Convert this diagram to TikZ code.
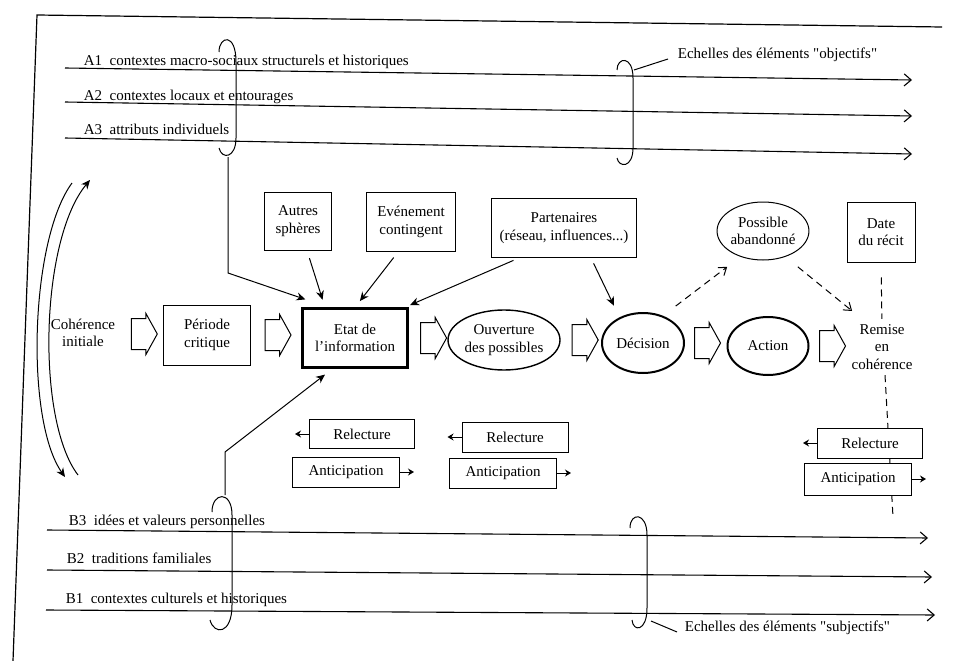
\documentclass[tikz,border=0pt]{standalone}
\usepackage{fontspec}
\setmainfont{Liberation Serif}
\usepackage{tikz}
\usetikzlibrary{positioning, shapes.geometric, shapes.arrows, arrows.meta}

\begin{document}
\begin{tikzpicture}[x=1pt, y=-1pt, font=\fontsize{15}{17.5}\selectfont, line width=1pt]
    % Default looks
    \tikzstyle{box}=[draw, rectangle, inner sep=0pt, align=center];
    \tikzstyle{oval}=[draw, ellipse, inner sep=0pt, align=center];
    \tikzstyle{fat}=[draw, single arrow, inner xsep=0pt, inner ysep=15pt, minimum height=26pt, minimum width=40pt, single arrow head extend=5pt, single arrow tip angle=122];
    \tikzstyle{echelle}=[-{Straight Barb[length=7pt,width=12pt]}, line width=1.1pt];
    \tikzstyle{arr}=[-{Stealth[length=9pt,width=8pt]}];
    \tikzstyle{darr}=[dash pattern=on 7pt off 5pt, -{Straight Barb[length=7pt,width=10pt]}];
    \fill[white] (0,0) rectangle (959,661);
    \useasboundingbox (0,0) rectangle (959,661);

    % Frame
    \draw[line width=1.2pt] (942,27) -- (37,15) -- (13,661);

    % Objective scales
    \coordinate (a1s) at (65,68);  \coordinate (a1e) at (912,80);
    \coordinate (a2s) at (65,102); \coordinate (a2e) at (912,116);
    \coordinate (a3s) at (65,138); \coordinate (a3e) at (912,154);
    \draw[echelle] (a1s) -- (a1e);
    \draw[echelle] (a2s) -- (a2e);
    \draw[echelle] (a3s) -- (a3e);
    \node (a1) [anchor=base west] at (80,66) {A1~~contextes macro-sociaux structurels et historiques};
    \node (a2) [anchor=base west] at (80,100) {A2~~contextes locaux et entourages};
    \node (a3) [anchor=base west] at (80,135) {A3~~attributs individuels};

    % Subjective scales
    \coordinate (b3s) at (47,530); \coordinate (b3e) at (928,538);
    \coordinate (b2s) at (47,570); \coordinate (b2e) at (932,577);
    \coordinate (b1s) at (46,610); \coordinate (b1e) at (935,615);
    \draw[echelle] (b3s) -- (b3e);
    \draw[echelle] (b2s) -- (b2e);
    \draw[echelle] (b1s) -- (b1e);
    \node (b3) [anchor=base west] at (65,525) {B3~~idées et valeurs personnelles};
    \node (b2) [anchor=base west] at (63,563) {B2~~traditions familiales};
    \node (b1) [anchor=base west] at (62,603) {B1~~contextes culturels et historiques};

    % Braces
    \draw (219,52) .. controls (219,36) and (236,32) .. (236,62) -- (236,138) .. controls (236,158) and (222,160) .. (219,148);
    \draw (617,70) .. controls (617,57) and (633,55) .. (633,78) -- (633,148) .. controls (633,168) and (619,168) .. (617,158);
    \draw (212,512) .. controls (212,492) and (232,490) .. (232,515) -- (232,605) .. controls (232,635) and (214,635) .. (210,620);
    \draw (630,528) .. controls (630,512) and (647,512) .. (647,535) -- (647,608) .. controls (647,632) and (633,632) .. (632,620);
    \node (objl) [anchor=west] at (674,55) {Echelles des éléments \textquotedbl objectifs\textquotedbl};
    \node (subl) [anchor=west] at (681,628) {Echelles des éléments \textquotedbl subjectifs\textquotedbl};
    \coordinate (objb) at (634,70);
    \coordinate (subb) at (651,621);
    \draw (objb) -- ([shift={(-6,4)}]objl.west);
    \draw (subb) -- ([shift={(-4,4)}]subl.west);

    % Return arcs
    \coordinate (lt1) at (72,183); \coordinate (lb1) at (65,477);
    \coordinate (lb2) at (78,475); \coordinate (lt2) at (90,180);
    \draw[arr] (lt1) .. controls (30,240) and (25,420) .. (lb1);
    \draw[arr] (lb2) .. controls (36,420) and (40,240) .. (lt2);

    % Main sequence
    \node (coh) [align=center] at (83,333) {Cohérence\\initiale};
    \node (f1) [fat] at (140,334) {};
    \node (per) [box, minimum width=87pt, minimum height=60pt] at (207,335) {Période\\critique};
    \node (f2) [fat, right=13.5pt of per] {};
    \node (etat) [box, line width=2.2pt, minimum width=105pt, minimum height=59pt] at (355,338) {Etat de\\l'information};
    \node (f3) [fat, right=11.5pt of etat] {};
    \node (ouv) [oval, line width=1.4pt, minimum width=112pt, minimum height=60pt] at (504,340) {Ouverture\\des possibles};
    \node (f4) [fat, right=11pt of ouv] {};
    \node (dec) [oval, line width=2pt, minimum width=82pt, minimum height=60pt] at (643,343) {Décision};
    \node (f5) [fat, right=9pt of dec] {};
    \node (act) [oval, line width=2pt, minimum width=81pt, minimum height=58pt] at (768,346) {Action};
    \node (f6) [fat, right=9.5pt of act] {};
    \node (rem) [align=center, inner sep=0pt] at (882,347) {Remise\\en\\cohérence};

    % Upper nodes
    \node (autres) [box, minimum width=67pt, minimum height=58pt] at (298,221) {Autres\\sphères};
    \node (event) [box, minimum width=89pt, minimum height=59pt] at (411,222) {Evénement\\contingent};
    \node (part) [box, minimum width=145pt, minimum height=59pt] at (564,228) {Partenaires\\(réseau, influences...)};
    \node (aband) [oval, minimum width=90pt, minimum height=58pt] at (763,231) {Possible\\abandonné};
    \node (date) [box, minimum width=68pt, minimum height=60pt] at (881,232) {Date\\du récit};

    % Influences on the state of information
    \coordinate (bA) at (228,157);
    \coordinate (bB) at (225,495);
    \draw[arr] (bA) -- (228,273) -- ([shift={(4,-8)}]etat.north west);
    \draw[arr] (bB) -- (225,452) -- ([shift={(-30,6)}]etat.south);
    \draw[arr, shorten <=8pt, shorten >=8pt] ([xshift=9]autres.south) -- ([xshift=-30]etat.north);
    \draw[arr, shorten <=7pt, shorten >=8pt] ([xshift=-13]event.south) -- (etat.north);
    \draw[arr, shorten <=6pt, shorten >=6pt] ([xshift=-45]part.south) -- ([xshift=-4]etat.north east);
    \draw[arr, shorten <=6pt, shorten >=7pt] ([xshift=27]part.south) -- ([xshift=-26]dec.north);
    \draw[darr] ([shift={(3,-15)}]dec.north east) -- ([shift={(-3,15)}]aband.south west);
    \draw[darr] ([shift={(2,15)}]aband.south east) -- ([shift={(1,-13)}]rem.north west);
    \draw[dash pattern=on 7pt off 5pt, shorten <=15pt, shorten >=5pt] (date.south) -- (rem.north);
    \coordinate (rlow) at (893,517);
    \draw[dash pattern=on 7pt off 5pt] ([shift={(3,5)}]rem.south) -- (rlow);

    % Rereading and anticipation
    \node (rel1) [box, fill=white, minimum width=105pt, minimum height=29pt] at (362,434) {Relecture};
    \node (ant1) [box, fill=white, minimum width=107pt, minimum height=30pt] at (346,472) {Anticipation};
    \node (rel2) [box, fill=white, minimum width=106pt, minimum height=30pt] at (515,437) {Relecture};
    \node (ant2) [box, fill=white, minimum width=107pt, minimum height=30pt] at (503,473) {Anticipation};
    \node (rel3) [box, fill=white, minimum width=105pt, minimum height=30pt] at (870,443) {Relecture};
    \node (ant3) [box, fill=white, minimum width=107pt, minimum height=32pt] at (858,479) {Anticipation};
    \draw[-{Stealth[length=6pt,width=7pt]}] (rel1.west) -- ++(-14,0);
    \draw[-{Stealth[length=6pt,width=7pt]}] (rel2.west) -- ++(-14,0);
    \draw[-{Stealth[length=6pt,width=7pt]}] (rel3.west) -- ++(-14,0);
    \draw[-{Stealth[length=6pt,width=7pt]}] (ant1.east) -- ++(14,0);
    \draw[-{Stealth[length=6pt,width=7pt]}] (ant2.east) -- ++(14,0);
    \draw[-{Stealth[length=6pt,width=7pt]}] (ant3.east) -- ++(14,0);
\end{tikzpicture}
\end{document}
